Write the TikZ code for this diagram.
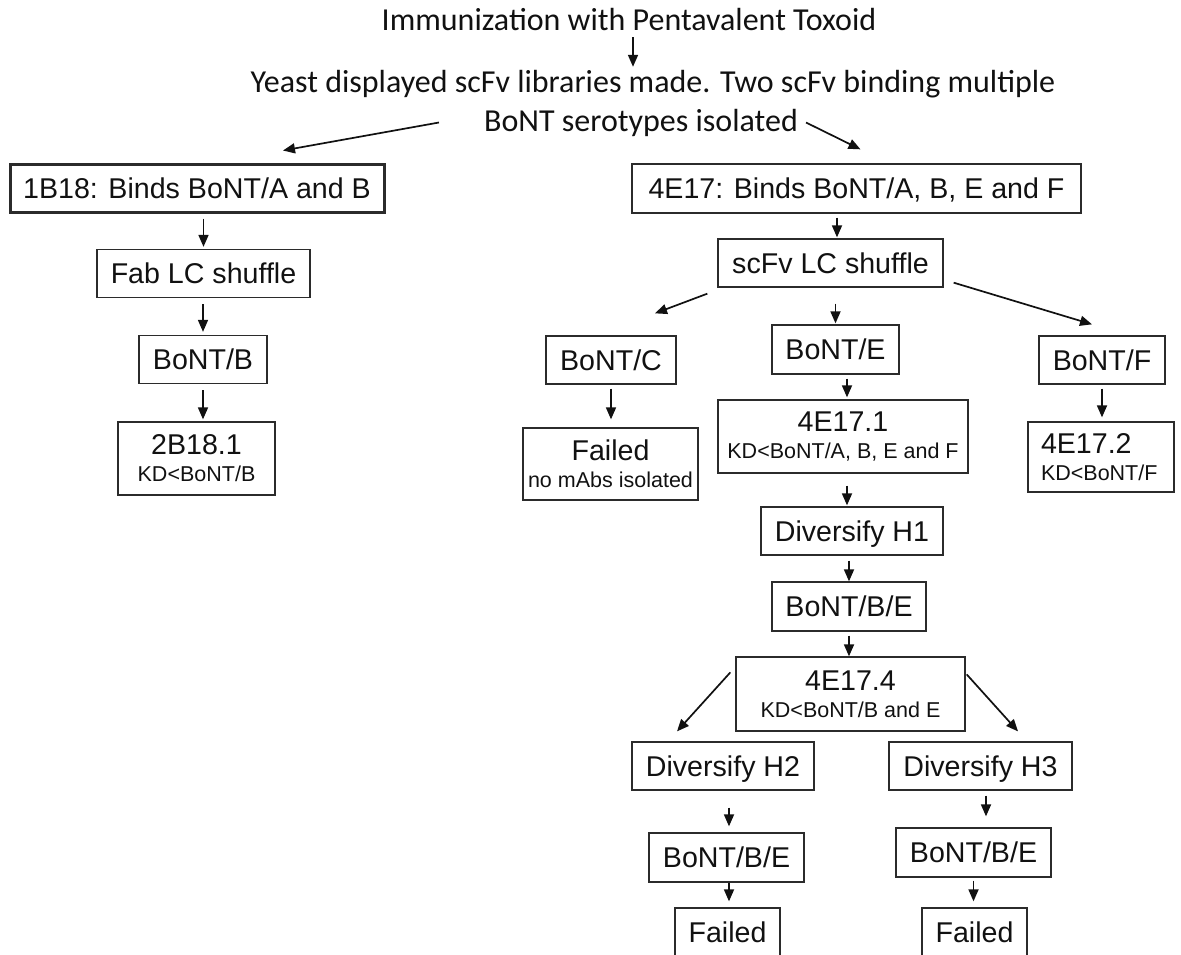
\documentclass[tikz,border=0pt]{standalone}
\usepackage{fontspec}
\usetikzlibrary{arrows.meta,calc,positioning}
\newfontfamily\boxfont{Liberation Sans}
\newfontfamily\headerfont{Carlito}
\definecolor{ink}{HTML}{111111}
\definecolor{frame}{HTML}{2B2B2B}
\tikzset{
  header/.style={
    font=\headerfont\fontsize{32}{39}\selectfont,
    text=ink,
    inner sep=0pt,
    text height=24pt,
    text depth=7pt,
    anchor=base
  },
  box/.style={
    draw=frame,
    line width=1.3pt,
    font=\boxfont\fontsize{28.6}{27}\selectfont,
    text=ink,
    inner sep=0pt,
    align=center,
    minimum height=48pt
  },
  stage/.style={
    box,
    text height=20.5pt,
    text depth=0pt
  },
  result/.style={
    box
  },
  flow/.style={
    -{Triangle[length=12pt,width=10pt]},
    draw=ink,
    line width=1.7pt
  },
  drop/.style={
    flow,
    shorten <=4pt,
    shorten >=2pt
  }
}
\newcommand\kdline[1]{{\fontsize{21.5}{27}\selectfont #1}}

\begin{document}
\begin{tikzpicture}[x=1pt, y=-1pt]
  \useasboundingbox (0,0) rectangle (1181,954);
  \clip (0,0) rectangle (1181,954);

  % header lines
  \node[header] (immun) at (629,30) {Immunization with Pentavalent Toxoid};
  \node[header] (libs) at (653,92) {Yeast displayed scFv libraries made. Two scFv binding multiple};
  \node[header] (sero) at (641,131) {BoNT serotypes isolated};

  % left branch
  \node[stage, line width=3pt, minimum width=374pt] (b1b18) at (197,188) {1B18: Binds BoNT/A and B};
  \node[stage, minimum width=213pt] (fab) at (203.5,273.5) {Fab LC shuffle};
  \node[stage, minimum width=128pt] (bontb) at (203,359.5) {BoNT/B};
  \node[result, minimum width=157pt, minimum height=73pt] (r2b18) at (196.5,458.5) {2B18.1\\\kdline{KD<BoNT/B}};

  % right branch
  \node[stage, minimum width=449pt, minimum height=49pt] (b4e17) at (856.5,188.5) {4E17: Binds BoNT/A, B, E and F};
  \node[stage, minimum width=225pt] (scfv) at (830.5,263) {scFv LC shuffle};
  \node[stage, minimum width=130pt] (bontc) at (611,360) {BoNT/C};
  \node[stage, minimum width=127pt, minimum height=49pt] (bonte) at (835.5,349.5) {BoNT/E};
  \node[stage, minimum width=126pt] (bontf) at (1102,360) {BoNT/F};
  \node[result, minimum width=175pt, minimum height=72pt] (failc) at (610.5,464) {Failed\\\kdline{no mAbs isolated}};
  \node[result, minimum width=250pt, minimum height=73pt] (r4e171) at (843,436.5) {4E17.1\\\kdline{KD<BoNT/A, B, E and F}};
  \node[result, text width=120pt, inner xsep=13pt, align=left, minimum height=70pt] (r4e172) at (1101,457) {4E17.2\\\kdline{KD<BoNT/F}};
  \node[stage, minimum width=182pt] (divh1) at (852,531) {Diversify H1};
  \node[stage, minimum width=154pt, minimum height=49pt] (bontbe) at (849,606.5) {BoNT/B/E};
  \node[result, minimum width=229pt, minimum height=74pt] (r4e174) at (850.5,694) {4E17.4\\\kdline{KD<BoNT/B and E}};
  \node[stage, minimum width=182pt] (divh2) at (723,766) {Diversify H2};
  \node[stage, minimum width=183pt] (divh3) at (980.5,766) {Diversify H3};
  \node[stage, minimum width=155pt, minimum height=49pt] (bontbe2) at (726.5,857.5) {BoNT/B/E};
  \node[stage, minimum width=155pt, minimum height=49pt] (bontbe3) at (973.5,852.5) {BoNT/B/E};
  \node[stage, minimum width=105pt] (fail2) at (727.5,932) {Failed};
  \node[stage, minimum width=105pt] (fail3) at (974.5,932) {Failed};

  % header arrows
  \draw[flow, shorten >=1pt] ([xshift=4pt]immun.south) -- ([xshift=4pt]immun.south |- libs.north);
  \draw[flow] ([xshift=-45pt]sero.west) -- ([shift={(86,-12)}]b1b18.north);
  \draw[flow] ([xshift=8pt]sero.east) -- ([shift={(4,-14)}]b4e17.north);

  % left branch arrows
  \draw[drop, shorten <=5pt] (fab.north |- b1b18.south) -- (fab.north);
  \draw[drop, shorten <=6pt, shorten >=3pt] (bontb.north |- fab.south) -- (bontb.north);
  \draw[drop, shorten <=6pt] (bontb.south) -- (bontb.south |- r2b18.north);

  % right branch arrows
  \draw[drop, shorten >=1pt] ([xshift=6.5pt]scfv.north |- b4e17.south) -- ([xshift=6.5pt]scfv.north);
  \draw[flow] ([shift={(-10,6)}]scfv.south west) -- ([shift={(44,-22)}]bontc.north);
  \draw[drop, shorten <=16pt, shorten >=1pt] (bonte.north |- scfv.south) -- (bonte.north);
  \draw[flow] ([shift={(10,-5)}]scfv.south east) -- ([shift={(-10,-11)}]bontf.north);
  \draw[drop, shorten >=8pt] (bontc.south) -- (bontc.south |- failc.north);
  \draw[drop] ([xshift=4pt]r4e171.north |- bonte.south) -- ([xshift=4pt]r4e171.north);
  \draw[drop, shorten >=4pt] (bontf.south) -- (bontf.south |- r4e172.north);
  \draw[drop, shorten <=12pt, shorten >=1pt] ([xshift=-5pt]divh1.north |- r4e171.south) -- ([xshift=-5pt]divh1.north);
  \draw[drop, shorten <=5pt, shorten >=0pt] (bontbe.north |- divh1.south) -- (bontbe.north);
  \draw[drop, shorten >=0pt] (bontbe.south) -- (bontbe.south |- r4e174.north);
  \draw[flow] ([shift={(-5,16)}]r4e174.north west) -- ([shift={(-46,-10)}]divh2.north);
  \draw[flow] ([shift={(1,18)}]r4e174.north east) -- ([shift={(37.5,-10)}]divh3.north);
  \draw[drop, shorten <=17pt, shorten >=6pt] ([xshift=2.5pt]bontbe2.north |- divh2.south) -- ([xshift=2.5pt]bontbe2.north);
  \draw[drop, shorten <=0pt, shorten >=6pt] ([xshift=1.5pt]fail2.north |- bontbe2.south) -- ([xshift=1.5pt]fail2.north);
  \draw[drop, shorten <=5pt, shorten >=11pt] ([xshift=5.5pt]divh3.south) -- ([xshift=5.5pt]divh3.south |- bontbe3.north);
  \draw[drop, shorten <=3pt, shorten >=6pt] (bontbe3.south) -- (bontbe3.south |- fail3.north);
\end{tikzpicture}
\end{document}
